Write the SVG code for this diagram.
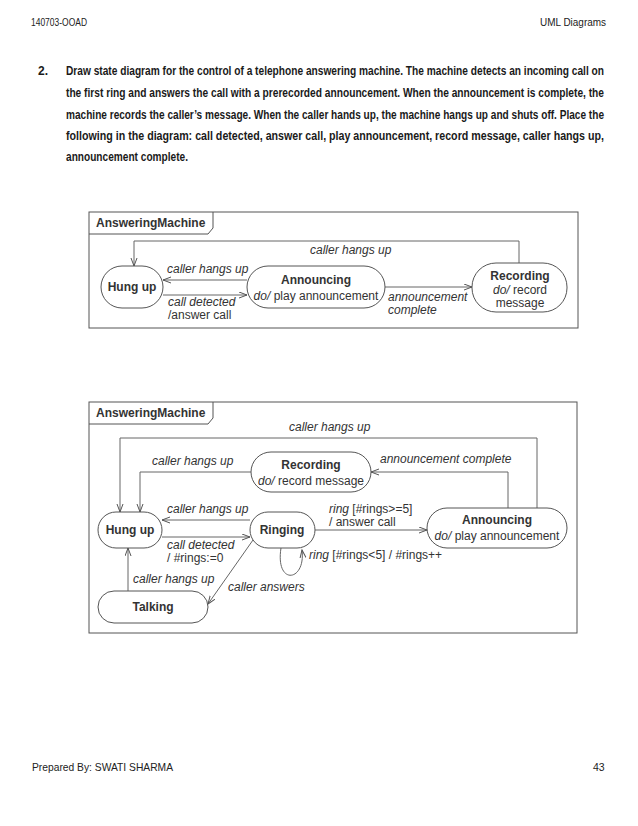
<svg xmlns="http://www.w3.org/2000/svg" width="638" height="826" viewBox="0 0 638 826">
<defs>
<marker id="arr" markerUnits="userSpaceOnUse" markerWidth="10" markerHeight="8" refX="8" refY="3.5" orient="auto">
<path d="M0,0.5 L8,3.5 L0,6.5" fill="none" stroke="#555" stroke-width="1"/>
</marker>
<style>
.hdr{font-family:"Liberation Sans",Arial,sans-serif;font-size:10.5px;fill:#222}
.par{font-family:"Liberation Sans",Arial,sans-serif;font-size:12px;font-weight:bold;fill:#1a1a1a}
.frame{fill:none;stroke:#555;stroke-width:1}
.node rect{fill:#fff;stroke:#555;stroke-width:1}
.t{font-family:"Liberation Sans",Arial,sans-serif;font-size:12px;fill:#333}
.b{font-weight:bold}
.i{font-style:italic}
.m{text-anchor:middle}
.edge{fill:none;stroke:#666;stroke-width:1;marker-end:url(#arr)}
</style>
</defs>
<rect width="638" height="826" fill="#fff"/>

<text class="hdr" x="31" y="26" textLength="56" lengthAdjust="spacingAndGlyphs">140703-OOAD</text>
<text class="hdr" x="540" y="26" textLength="66" lengthAdjust="spacingAndGlyphs">UML Diagrams</text>

<text class="par" x="38" y="75">2.</text>
<g transform="translate(66,0) scale(0.76,1)">
<text class="par" x="0" y="75" textLength="707.9" lengthAdjust="spacingAndGlyphs">Draw state diagram for the control of a telephone answering machine. The machine detects an incoming call on</text>
<text class="par" x="0" y="97" textLength="707.9" lengthAdjust="spacingAndGlyphs">the first ring and answers the call with a prerecorded announcement. When the announcement is complete, the</text>
<text class="par" x="0" y="119" textLength="707.9" lengthAdjust="spacingAndGlyphs">machine records the caller’s message. When the caller hands up, the machine hangs up and shuts off. Place the</text>
<text class="par" x="0" y="140" textLength="707.9" lengthAdjust="spacingAndGlyphs">following in the diagram: call detected, answer call, play announcement, record message, caller hangs up,</text>
<text class="par" x="0" y="161" textLength="160.5" lengthAdjust="spacingAndGlyphs">announcement complete.</text>
</g>

<!-- Diagram 1 -->
<g id="frame1">
<rect class="frame" x="89" y="212" width="489" height="116"/>
<path class="frame" d="M89,234 H208 L213,228 V212"/>
<text class="t b" x="96" y="227">AnsweringMachine</text>
</g>
<g id="d1-edges">
<path class="edge" d="M519,263 V241 H134 V266"/>
<text class="t i" x="310" y="254">caller hangs up</text>
<path class="edge" d="M247,280 H163"/>
<text class="t i" x="167" y="273">caller hangs up</text>
<path class="edge" d="M163,295 H247"/>
<text class="t i" x="168" y="306">call detected</text>
<text class="t" x="168" y="319">/answer call</text>
<path class="edge" d="M385,287 H472"/>
<text class="t i" x="388" y="301">announcement</text>
<text class="t i" x="388" y="314">complete</text>
</g>
<g id="d1-hungup" class="node">
<rect x="101" y="266" width="62" height="42" rx="21"/>
<text class="t b m" x="132" y="291">Hung up</text>
</g>
<g id="d1-announcing" class="node">
<rect x="247" y="266" width="138" height="42" rx="21"/>
<text class="t b m" x="316" y="284">Announcing</text>
<text class="t m" x="316" y="300"><tspan class="i">do/</tspan> play announcement</text>
</g>
<g id="d1-recording" class="node">
<rect x="472" y="263" width="95" height="49" rx="24"/>
<text class="t b m" x="520" y="280">Recording</text>
<text class="t m" x="520" y="294"><tspan class="i">do/</tspan> record</text>
<text class="t m" x="520" y="307">message</text>
</g>

<!-- Diagram 2 -->
<g id="frame2">
<rect class="frame" x="89" y="402" width="488" height="231"/>
<path class="frame" d="M89,424 H208 L213,418 V402"/>
<text class="t b" x="96" y="417">AnsweringMachine</text>
</g>
<g id="d2-edges">
<path class="edge" d="M537,508 V438 H120 V512"/>
<text class="t i" x="289" y="431">caller hangs up</text>
<path class="edge" d="M508,508 V472 H371"/>
<text class="t i" x="380" y="463">announcement complete</text>
<path class="edge" d="M251,472 H140 V512"/>
<text class="t i" x="152" y="465">caller hangs up</text>
<path class="edge" d="M250,520 H162"/>
<text class="t i" x="167" y="513">caller hangs up</text>
<path class="edge" d="M162,537 H250"/>
<text class="t i" x="167" y="549">call detected</text>
<text class="t" x="167" y="562">/ #rings:=0</text>
<path class="edge" d="M315,530 H427"/>
<text class="t" x="329" y="513"><tspan class="i">ring</tspan> [#rings&gt;=5]</text>
<text class="t" x="329" y="526">/ answer call</text>
<path class="edge" d="M281,548 C275,586 306,582 302,550"/>
<text class="t" x="309" y="559"><tspan class="i">ring</tspan> [#rings&lt;5] / #rings++</text>
<path class="edge" d="M128,591 V548"/>
<text class="t i" x="133" y="583">caller hangs up</text>
<path class="edge" d="M253,540 L208,604"/>
<text class="t i" x="228" y="591">caller answers</text>
</g>
<g id="d2-hungup" class="node">
<rect x="98" y="512" width="64" height="36" rx="18"/>
<text class="t b m" x="130" y="534">Hung up</text>
</g>
<g id="d2-ringing" class="node">
<rect x="250" y="512" width="65" height="36" rx="18"/>
<text class="t b m" x="282" y="534">Ringing</text>
</g>
<g id="d2-talking" class="node">
<rect x="98" y="591" width="110" height="32" rx="16"/>
<text class="t b m" x="153" y="611">Talking</text>
</g>
<g id="d2-recording" class="node">
<rect x="251" y="452" width="120" height="40" rx="20"/>
<text class="t b m" x="311" y="469">Recording</text>
<text class="t m" x="311" y="485"><tspan class="i">do/</tspan> record message</text>
</g>
<g id="d2-announcing" class="node">
<rect x="427" y="508" width="140" height="40" rx="20"/>
<text class="t b m" x="497" y="524">Announcing</text>
<text class="t m" x="497" y="540"><tspan class="i">do/</tspan> play announcement</text>
</g>

<text class="hdr" x="32" y="771" textLength="141" lengthAdjust="spacingAndGlyphs">Prepared By: SWATI SHARMA</text>
<text class="hdr" x="593" y="771">43</text>
</svg>
